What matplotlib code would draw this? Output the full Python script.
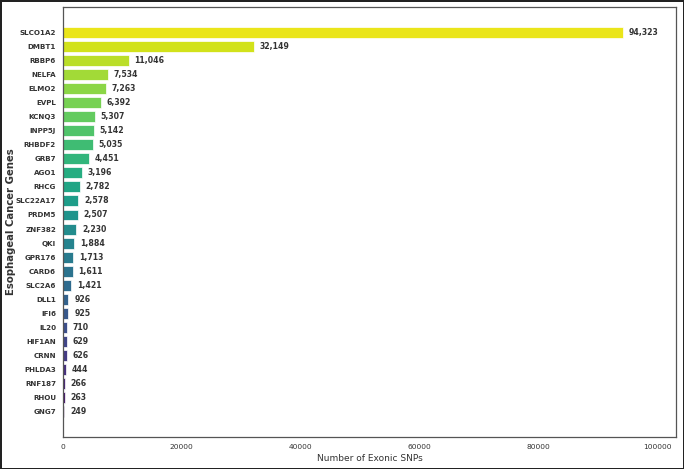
import matplotlib
matplotlib.use("Agg")
import matplotlib.pyplot as plt
import seaborn as sns
import numpy as np

genes = ["SLCO1A2", "DMBT1", "RBBP6", "NELFA", "ELMO2", "EVPL", "KCNQ3", "INPP5J",
         "RHBDF2", "GRB7", "AGO1", "RHCG", "SLC22A17", "PRDM5", "ZNF382", "QKI",
         "GPR176", "CARD6", "SLC2A6", "DLL1", "IFI6", "IL20", "HIF1AN", "CRNN",
         "PHLDA3", "RNF187", "RHOU", "GNG7"]
snps = [94323, 32149, 11046, 7534, 7263, 6392, 5307, 5142,
        5035, 4451, 3196, 2782, 2578, 2507, 2230, 1884,
        1713, 1611, 1421, 926, 925, 710, 629, 626,
        444, 266, 263, 249]

sns.set_style("white")
plt.rcParams['font.family'] = ['DejaVu Sans']

fig, ax = plt.subplots(figsize=(6.84, 4.69), dpi=100)
fig.patch.set_edgecolor("#222222")
fig.patch.set_linewidth(2)
fig.subplots_adjust(left=0.0921, right=0.9883, top=0.985, bottom=0.0682)

colors = sns.color_palette("viridis_r", len(genes))
y = np.arange(len(genes))
ax.barh(y, snps, height=0.78, color=colors, edgecolor="white", linewidth=0.5)

for yi, v in zip(y, snps):
    ax.text(v + 950, yi, f"{v:,}", va="center", ha="left", fontsize=5.6,
            fontweight="bold", color="#333333")

ax.set_yticks(y)
ax.set_yticklabels(genes, fontsize=5.1, fontweight="bold", color="#333333")
ax.set_ylim(len(genes) - 1 + 1.78, -1.78)
ax.set_xlim(0, 103200)
ax.tick_params(axis="x", labelsize=5.4, colors="#333333", length=0, pad=5)
ax.tick_params(axis="y", length=0, pad=5)
ax.set_xlabel("Number of Exonic SNPs", fontsize=6.5, color="#333333", labelpad=3)
ax.set_ylabel("Esophageal Cancer Genes", fontsize=7.3, fontweight="bold",
              color="#333333")
ax.yaxis.set_label_coords(-0.077, 0.5)
for s in ax.spines.values():
    s.set_color("#555555")
    s.set_linewidth(0.9)

plt.savefig("out.png", dpi=100, edgecolor=fig.get_edgecolor())
